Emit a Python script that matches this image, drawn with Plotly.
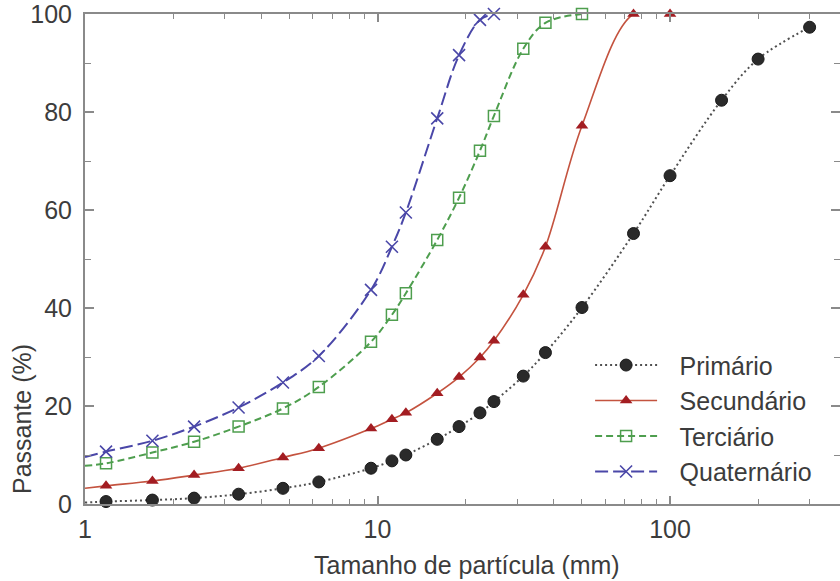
import plotly.graph_objects as go

# ---- data ----
sizes_all = [1.18, 1.7, 2.36, 3.35, 4.75, 6.3, 9.5, 11.2, 12.5, 16, 19, 22.4, 25,
             31.5, 37.5, 50, 75, 100, 150, 200, 300]
primario = [0.5, 0.8, 1.2, 2.0, 3.2, 4.5, 7.3, 8.8, 10.0, 13.2, 15.8, 18.6, 20.9,
            26.1, 30.9, 40.1, 55.2, 67.0, 82.4, 90.8, 97.3]

sizes_sec = sizes_all[:18]
secundario = [3.7, 4.7, 5.9, 7.3, 9.5, 11.4, 15.4, 17.3, 18.6, 22.6, 25.9, 29.9, 33.3,
              42.7, 52.5, 77.2, 100, 100]

sizes_ter = sizes_all[:16]
terciario = [8.3, 10.5, 12.7, 15.8, 19.5, 23.9, 33.1, 38.6, 43.0, 53.9, 62.5, 72.1, 79.2,
             92.9, 98.2, 100]

sizes_qua = sizes_all[:13]
quaternario = [10.7, 12.9, 15.8, 19.7, 24.8, 30.2, 43.7, 52.5, 59.5, 78.7, 91.6, 98.8, 100]

# curve value where each line meets the left axis (x = 1 mm)
line_start_x = 1
line_start = {"Primário": 0.3, "Secundário": 3.2, "Terciário": 7.8, "Quaternário": 9.6}

x_tick_vals = [1, 10, 100]
x_tick_text = ["1", "10", "100"]
y_tick_vals = [0, 20, 40, 60, 80, 100]
y_tick_text = ["0", "20", "40", "60", "80", "100"]

series = [
    dict(name="Primário", x=sizes_all, y=primario,
         line=dict(color="#505050", width=2, dash="2px,3px"),
         marker=dict(symbol="circle", size=12, color="#2a2a2a",
                     line=dict(color="#1a1a1a", width=1))),
    dict(name="Secundário", x=sizes_sec, y=secundario,
         line=dict(color="#c4533f", width=1.6, dash="solid"),
         marker=dict(symbol="triangle-up", size=11, color="#a31d22",
                     line=dict(color="#a31d22", width=0))),
    dict(name="Terciário", x=sizes_ter, y=terciario,
         line=dict(color="#4e9e4e", width=2, dash="7px,4px"),
         marker=dict(symbol="square-open", size=11, color="#4e9e4e",
                     line=dict(color="#4e9e4e", width=1.5))),
    dict(name="Quaternário", x=sizes_qua, y=quaternario,
         line=dict(color="#4a47a8", width=2, dash="13px,5px"),
         marker=dict(symbol="x-thin-open", size=12, color="#4a47a8",
                     line=dict(color="#4a47a8", width=1.6))),
]

fig = go.Figure()
for s in series:
    fig.add_trace(go.Scatter(
        x=[line_start_x] + s["x"], y=[line_start[s["name"]]] + s["y"],
        mode="lines", line=dict(shape="spline", smoothing=1, **s["line"]),
        showlegend=False, hoverinfo="skip", legendgroup=s["name"]))
    fig.add_trace(go.Scatter(
        x=s["x"], y=s["y"], mode="markers", marker=s["marker"],
        showlegend=False, cliponaxis=False, legendgroup=s["name"]))
    fig.add_trace(go.Scatter(
        x=[None], y=[None], mode="lines+markers", name="\u2002\u2009" + s["name"],
        line=s["line"], marker=s["marker"], legendgroup=s["name"]))

axis_color = "#8a8a8a"
font_color = "#3c3c3c"

fig.update_layout(
    width=840, height=581,
    margin=dict(l=85, r=0, t=14, b=77),
    paper_bgcolor="white", plot_bgcolor="white",
    font=dict(family="Liberation Sans, Arial, sans-serif", size=25, color=font_color),
    showlegend=True,
    legend=dict(x=0.669, y=0.33, xanchor="left", yanchor="top",
                bgcolor="rgba(0,0,0,0)", itemwidth=62, tracegroupgap=0,
                font=dict(size=25, color=font_color)),
    xaxis=dict(type="log", range=[0, 2.581], showgrid=False, zeroline=False,
               automargin=False, ticklabeloverflow="allow",
               showline=True, linecolor=axis_color, linewidth=2, mirror="ticks",
               ticks="inside", ticklen=8, tickwidth=1.5, tickcolor=axis_color,
               tickvals=x_tick_vals, ticktext=x_tick_text, ticklabelstandoff=2,
               minor=dict(ticks="inside", ticklen=5, tickwidth=1, tickcolor=axis_color,
                          dtick="D1", showgrid=False)),
    yaxis=dict(range=[0, 100], showgrid=False, zeroline=False,
               automargin=False, ticklabeloverflow="allow",
               showline=True, linecolor=axis_color, linewidth=2, mirror="ticks",
               ticks="inside", ticklen=9, tickwidth=1.5, tickcolor=axis_color,
               tickvals=y_tick_vals, ticktext=y_tick_text, ticklabelstandoff=6,
               minor=dict(ticks="inside", ticklen=6, tickwidth=1, tickcolor=axis_color,
                          dtick=10, showgrid=False)),
    annotations=[
        dict(text="Tamanho de partícula (mm)", xref="paper", yref="paper",
             x=0.506, y=-0.125, xanchor="center", yanchor="middle", showarrow=False,
             font=dict(size=25, color=font_color)),
        dict(text="Passante (%)", xref="paper", yref="paper", textangle=-90,
             x=-0.0834, y=0.1735, xanchor="center", yanchor="middle", showarrow=False,
             font=dict(size=25, color=font_color)),
    ],
)

fig.write_html("out.html", config={"displayModeBar": False},
               post_script="document.body.style.margin='0';"
               "document.body.style.overflow='hidden';")
